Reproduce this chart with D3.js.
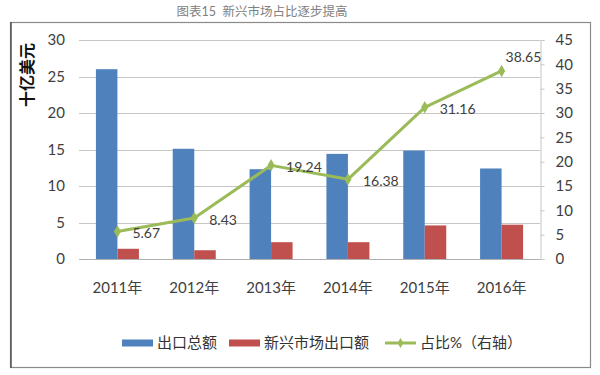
<!DOCTYPE html>
<html>
<head>
<meta charset="utf-8">
<script src="https://cdn.jsdelivr.net/npm/d3@7"></script>
<style>
  body { margin: 0; background: #fff; }
  svg text { font-family: "Lato", "Noto Sans CJK SC", sans-serif; }
</style>
</head>
<body>
<div id="chart"></div>
<script>
// ------------------------------ DATA ------------------------------
var years = ["2011年", "2012年", "2013年", "2014年", "2015年", "2016年"],
    totalExports = [26.0, 15.1, 12.3, 14.4, 14.85, 12.4],
    emergingExports = [1.4, 1.2, 2.3, 2.3, 4.6, 4.7],
    sharePct = [5.67, 8.43, 19.24, 16.38, 31.16, 38.65],
    leftTicks = [0, 5, 10, 15, 20, 25, 30],
    rightTicks = [0, 5, 10, 15, 20, 25, 30, 35, 40, 45],
    seriesNames = ["出口总额", "新兴市场出口额", "占比%（右轴）"];

// ------------------------------ CONFIG ------------------------------
var width = 600, height = 375,
    plotLeft = 79, plotRight = 540, plotTop = 40, plotBottom = 259,
    barWidth = 21.5;

var colorTotal = "#4F81BD",
    colorEmerging = "#C0504D",
    colorShare = "#9BBB59",
    gridColor = "#c6c6c6",
    textColor = "#404040";

// ------------------------------ MAIN ------------------------------
var svg = d3.select("#chart").append("svg")
    .attr("width", width)
    .attr("height", height);

svg.append("text")
    .attr("x", 262).attr("y", 16)
    .attr("text-anchor", "middle")
    .attr("font-size", "12.5px")
    .attr("fill", "#808080")
    .text("图表15\u00a0\u00a0新兴市场占比逐步提高");

// frame
svg.append("rect")
    .attr("x", 10.5).attr("y", 22.5)
    .attr("width", 580).attr("height", 345)
    .attr("fill", "none")
    .attr("stroke", "#8a8a8a")
    .attr("stroke-width", 1.2);
svg.append("line")
    .attr("x1", 11).attr("x2", 11).attr("y1", 22).attr("y2", 368)
    .attr("stroke", "#555").attr("stroke-width", 1.5);

var x = d3.scaleBand().domain(years).range([plotLeft, plotRight]);
var yLeft = d3.scaleLinear().domain([0, 30]).range([plotBottom, plotTop]);
var yRight = d3.scaleLinear().domain([0, 45]).range([plotBottom, plotTop]);
var xSub = d3.scaleBand().domain(["total", "emerging"]).range([-barWidth, barWidth]);

// gridlines
svg.append("g").selectAll("line")
    .data(leftTicks)
    .enter().append("line")
    .attr("x1", plotLeft).attr("x2", plotRight)
    .attr("y1", function (d) { return Math.round(yLeft(d)) + 0.5; })
    .attr("y2", function (d) { return Math.round(yLeft(d)) + 0.5; })
    .attr("stroke", gridColor)
    .attr("stroke-width", 1);

// left axis
var leftAxis = svg.append("g")
    .attr("transform", "translate(" + plotLeft + ",0)")
    .call(d3.axisLeft(yLeft).tickValues(leftTicks).tickSize(0).tickPadding(14));
leftAxis.select(".domain").remove();
leftAxis.selectAll("text").attr("font-size", "15px").attr("fill", textColor)
    .style("font-family", "Lato, sans-serif");

// right axis
var rightAxis = svg.append("g")
    .attr("transform", "translate(" + (plotRight + 0.5) + ",0)")
    .call(d3.axisRight(yRight).tickValues(rightTicks).tickSize(4).tickPadding(11));
rightAxis.select(".domain").attr("stroke", gridColor);
rightAxis.selectAll("line").attr("stroke", gridColor);
rightAxis.selectAll("text").attr("font-size", "15px").attr("fill", textColor)
    .style("font-family", "Lato, sans-serif");

// bottom axis
var bottomAxis = svg.append("g")
    .attr("transform", "translate(0," + plotBottom + ")")
    .call(d3.axisBottom(x).tickSize(0).tickPadding(23));
bottomAxis.select(".domain").attr("stroke", "#b0b0b0");
bottomAxis.selectAll("text").attr("font-size", "15px").attr("fill", textColor);

// y label
svg.append("text")
    .attr("transform", "translate(33,75) rotate(-90)")
    .attr("text-anchor", "middle")
    .attr("font-size", "16px")
    .attr("font-weight", "bold")
    .attr("fill", "#111")
    .text("十亿美元");

// bars
svg.append("g").selectAll("rect")
    .data(totalExports)
    .enter().append("rect")
    .attr("x", function (d, i) { return x(years[i]) + x.bandwidth() / 2 + xSub("total"); })
    .attr("y", function (d) { return yLeft(d); })
    .attr("width", xSub.bandwidth())
    .attr("height", function (d) { return plotBottom - yLeft(d); })
    .attr("fill", colorTotal);

svg.append("g").selectAll("rect")
    .data(emergingExports)
    .enter().append("rect")
    .attr("x", function (d, i) { return x(years[i]) + x.bandwidth() / 2 + xSub("emerging"); })
    .attr("y", function (d) { return yLeft(d); })
    .attr("width", xSub.bandwidth())
    .attr("height", function (d) { return plotBottom - yLeft(d); })
    .attr("fill", colorEmerging);

// share line
var line = d3.line()
    .x(function (d, i) { return x(years[i]) + x.bandwidth() / 2; })
    .y(function (d) { return yRight(d); });

svg.append("path")
    .datum(sharePct)
    .attr("d", line)
    .attr("fill", "none")
    .attr("stroke", colorShare)
    .attr("stroke-width", 3)
    .attr("stroke-linejoin", "round");

var diamond = d3.symbol().type(d3.symbolDiamond).size(45);
svg.append("g").selectAll("path")
    .data(sharePct)
    .enter().append("path")
    .attr("d", diamond)
    .attr("transform", function (d, i) {
        return "translate(" + (x(years[i]) + x.bandwidth() / 2) + "," + yRight(d) + ")";
    })
    .attr("fill", colorShare);

// data labels (right of point, last one above)
svg.append("g").selectAll("text")
    .data(sharePct)
    .enter().append("text")
    .attr("x", function (d, i) {
        return x(years[i]) + x.bandwidth() / 2 + (i === sharePct.length - 1 ? 4 : 15);
    })
    .attr("y", function (d, i) {
        return yRight(d) + (i === sharePct.length - 1 ? -14 : 2);
    })
    .attr("dy", "0.35em")
    .attr("font-size", "14px")
    .attr("fill", textColor)
    .style("font-family", "Lato, sans-serif")
    .text(function (d) { return d.toFixed(2); });

// ------------------------------ LEGEND ------------------------------
var legendY = 343;
var legend = svg.append("g");

legend.append("rect").attr("x", 122).attr("y", legendY - 3.5).attr("width", 31).attr("height", 7).attr("fill", colorTotal);
legend.append("text").attr("x", 157).attr("y", legendY).attr("dy", "0.35em")
    .attr("font-size", "15px").attr("fill", "#333").text(seriesNames[0]);

legend.append("rect").attr("x", 229).attr("y", legendY - 3.5).attr("width", 31).attr("height", 7).attr("fill", colorEmerging);
legend.append("text").attr("x", 264).attr("y", legendY).attr("dy", "0.35em")
    .attr("font-size", "15px").attr("fill", "#333").text(seriesNames[1]);

legend.append("line").attr("x1", 385).attr("x2", 416).attr("y1", legendY).attr("y2", legendY)
    .attr("stroke", colorShare).attr("stroke-width", 3);
legend.append("path").attr("d", d3.symbol().type(d3.symbolDiamond).size(30))
    .attr("transform", "translate(400.5," + legendY + ")").attr("fill", colorShare);
legend.append("text").attr("x", 420).attr("y", legendY).attr("dy", "0.35em")
    .attr("font-size", "15px").attr("fill", "#333").text(seriesNames[2]);
</script>
</body>
</html>
